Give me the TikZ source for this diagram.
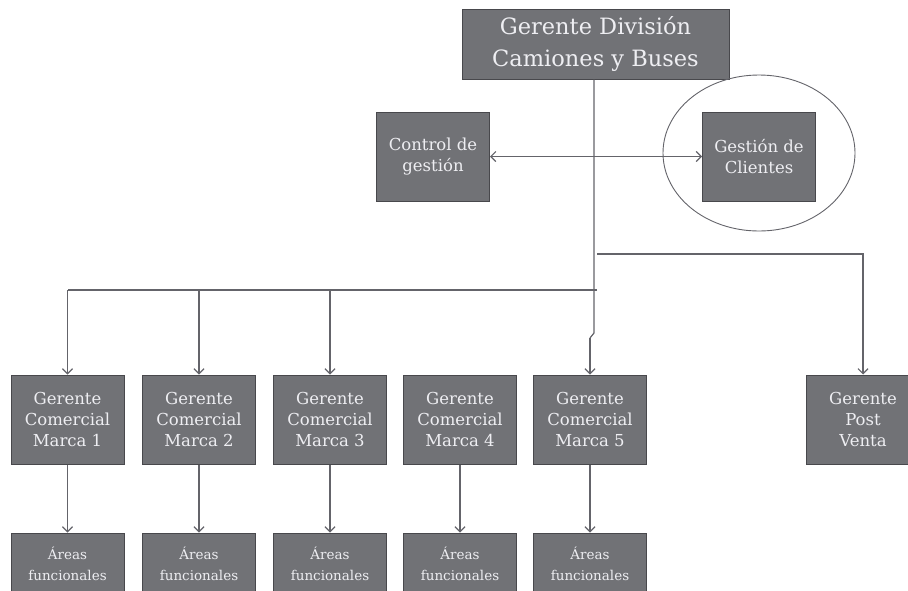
\documentclass[tikz,border=0pt]{standalone}
\usepackage{fontspec}
\setmainfont{DejaVu Serif}
\usetikzlibrary{arrows.meta}

\definecolor{boxfill}{RGB}{113,114,118}
\definecolor{boxline}{RGB}{72,72,76}
\definecolor{linecol}{RGB}{100,100,106}
\definecolor{boxtext}{RGB}{238,238,242}

\begin{document}
\begin{tikzpicture}[x=1pt,y=1pt,yscale=-1,
  box/.style={draw=boxline,line width=1pt,fill=boxfill,text=boxtext,align=center,inner sep=0pt,
    minimum width=113pt,minimum height=89pt,font=\fontsize{16.5}{21}\selectfont},
  bigbox/.style={box,minimum width=267pt,minimum height=70pt,font=\fontsize{22.5}{32}\selectfont},
  smallbox/.style={box,minimum height=62pt,font=\fontsize{13.5}{21}\selectfont},
  conn/.style={draw=linecol,line width=1.2pt},
  arr/.style={conn,-{Straight Barb[length=5pt,width=10pt]}},
  darr/.style={conn,{Straight Barb[length=5pt,width=10pt]}-{Straight Barb[length=5pt,width=10pt]}}]
\useasboundingbox (0,0) rectangle (908,590);

% top
\node[bigbox] (gerente) at (595.5,44) {Gerente División\\Camiones y Buses};

% staff
\node[box] (control) at (433,156.5) {Control de\\gestión};
\node[box] (clientes) at (759,156.5) {Gestión de\\Clientes};
\draw[draw=linecol,line width=0.9pt] (759,153) ellipse [x radius=96, y radius=78];

% marcas
\foreach \i/\x in {1/67.5,2/199,3/330,4/460,5/590}{
  \node[box] (marca\i) at (\x,419.5) {Gerente\\Comercial\\Marca \i};
  \node[smallbox] (areas\i) at (\x,564) {Áreas\\funcionales};
  \draw[arr] (marca\i) -- (areas\i);
}
\node[box] (postventa) at (863,419.5) {Gerente\\Post\\Venta};

% lines
\coordinate (jog) at (594,333);
\coordinate (jogend) at (590,338);
\coordinate (busL) at (597,290);
\coordinate (busR) at (597,254);
\draw[conn] (gerente.south -| jog) -- (jog) -- (jogend);
\draw[arr] (jogend) -- (marca5.north);
\draw[darr] (control) -- (clientes);
\draw[conn] (busL) -- (marca1.north |- busL);
\foreach \i in {1,2,3}{
  \draw[arr] (marca\i.north |- busL) -- (marca\i.north);
}
\draw[arr] (busR) -| (postventa.north);

\end{tikzpicture}
\end{document}
